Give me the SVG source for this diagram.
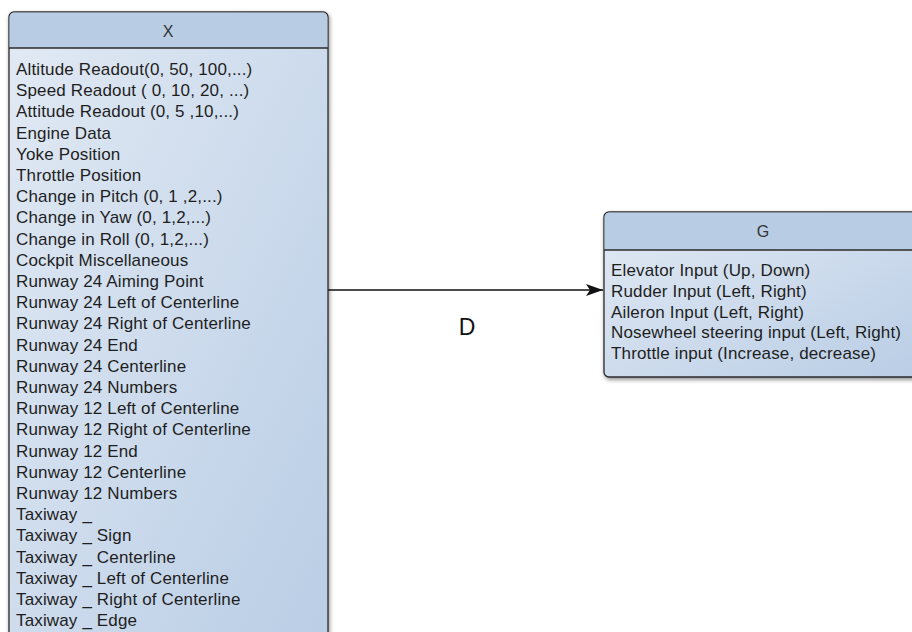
<svg xmlns="http://www.w3.org/2000/svg" width="912" height="632" viewBox="0 0 912 632">
<style>
.box{stroke:#2b2b2b;stroke-width:1.3}
.hdr{fill:#b8cce4}
.t{font-family:"Liberation Sans",Arial,sans-serif;font-size:17px;fill:#1e1e1e;letter-spacing:0.15px}
.ttl{font-family:"Liberation Sans",Arial,sans-serif;font-size:16px;fill:#333;text-anchor:middle}
.lbl{font-family:"Liberation Sans",Arial,sans-serif;font-size:23px;fill:#111;text-anchor:middle}
.edge{stroke:#111;stroke-width:1.4;fill:none}
</style>
<defs>
<linearGradient id="body" x1="0" y1="0" x2="1" y2="1">
<stop offset="0" stop-color="#e2eaf4"/>
<stop offset="1" stop-color="#b9cde5"/>
</linearGradient>
<filter id="sh" x="-10%" y="-10%" width="120%" height="120%">
<feGaussianBlur in="SourceAlpha" stdDeviation="2"/>
<feOffset dx="1" dy="2"/>
<feComponentTransfer><feFuncA type="linear" slope="0.45"/></feComponentTransfer>
<feMerge><feMergeNode/><feMergeNode in="SourceGraphic"/></feMerge>
</filter>
<marker id="arr" viewBox="0 0 17 12" refX="17" refY="6" markerWidth="17" markerHeight="12" markerUnits="userSpaceOnUse" orient="auto">
<path d="M0,0 L17,6 L0,12 L4,6 Z" fill="#111"/>
</marker>
</defs>
<rect width="912" height="632" fill="#ffffff"/>
<g id="edges">
<line class="edge" x1="328" y1="290" x2="603" y2="290" marker-end="url(#arr)"/>
<text class="lbl" x="467" y="335">D</text>
</g>
<g id="node-X">
<g filter="url(#sh)">
<rect class="box" x="9" y="12" width="319" height="640" rx="5" fill="url(#body)"/>
</g>
<path class="hdr" d="M14,12.6 H323 A4.4,4.4 0 0 1 327.4,17 V48 H9.6 V17 A4.4,4.4 0 0 1 14,12.6 Z"/>
<line class="box" x1="9" y1="48" x2="328" y2="48"/>
<text class="ttl" x="168" y="37">X</text>
<text class="t" x="16" y="75">Altitude Readout(0, 50, 100,...)</text>
<text class="t" x="16" y="96.2">Speed Readout ( 0, 10, 20, ...)</text>
<text class="t" x="16" y="117.4">Attitude Readout (0, 5 ,10,...)</text>
<text class="t" x="16" y="138.6">Engine Data</text>
<text class="t" x="16" y="159.8">Yoke Position</text>
<text class="t" x="16" y="181">Throttle Position</text>
<text class="t" x="16" y="202.2">Change in Pitch (0, 1 ,2,...)</text>
<text class="t" x="16" y="223.4">Change in Yaw (0, 1,2,...)</text>
<text class="t" x="16" y="244.6">Change in Roll (0, 1,2,...)</text>
<text class="t" x="16" y="265.8">Cockpit Miscellaneous</text>
<text class="t" x="16" y="287">Runway 24 Aiming Point</text>
<text class="t" x="16" y="308.2">Runway 24 Left of Centerline</text>
<text class="t" x="16" y="329.4">Runway 24 Right of Centerline</text>
<text class="t" x="16" y="350.6">Runway 24 End</text>
<text class="t" x="16" y="371.8">Runway 24 Centerline</text>
<text class="t" x="16" y="393">Runway 24 Numbers</text>
<text class="t" x="16" y="414.2">Runway 12 Left of Centerline</text>
<text class="t" x="16" y="435.4">Runway 12 Right of Centerline</text>
<text class="t" x="16" y="456.6">Runway 12 End</text>
<text class="t" x="16" y="477.8">Runway 12 Centerline</text>
<text class="t" x="16" y="499">Runway 12 Numbers</text>
<text class="t" x="16" y="520.2">Taxiway _</text>
<text class="t" x="16" y="541.4">Taxiway _ Sign</text>
<text class="t" x="16" y="562.6">Taxiway _ Centerline</text>
<text class="t" x="16" y="583.8">Taxiway _ Left of Centerline</text>
<text class="t" x="16" y="605">Taxiway _ Right of Centerline</text>
<text class="t" x="16" y="626.2">Taxiway _ Edge</text>
</g>
<g id="node-G">
<g filter="url(#sh)">
<rect class="box" x="604" y="212" width="318" height="165" rx="5" fill="url(#body)"/>
</g>
<path class="hdr" d="M609,212.6 H917 A4.4,4.4 0 0 1 921.4,217 V250 H604.6 V217 A4.4,4.4 0 0 1 609,212.6 Z"/>
<line class="box" x1="604" y1="250" x2="922" y2="250"/>
<text class="ttl" x="763" y="237">G</text>
<text class="t" x="611" y="276">Elevator Input (Up, Down)</text>
<text class="t" x="611" y="296.8">Rudder  Input (Left, Right)</text>
<text class="t" x="611" y="317.6">Aileron Input (Left, Right)</text>
<text class="t" x="611" y="338.4">Nosewheel steering input (Left, Right)</text>
<text class="t" x="611" y="359.2">Throttle input (Increase, decrease)</text>
</g>
</svg>
